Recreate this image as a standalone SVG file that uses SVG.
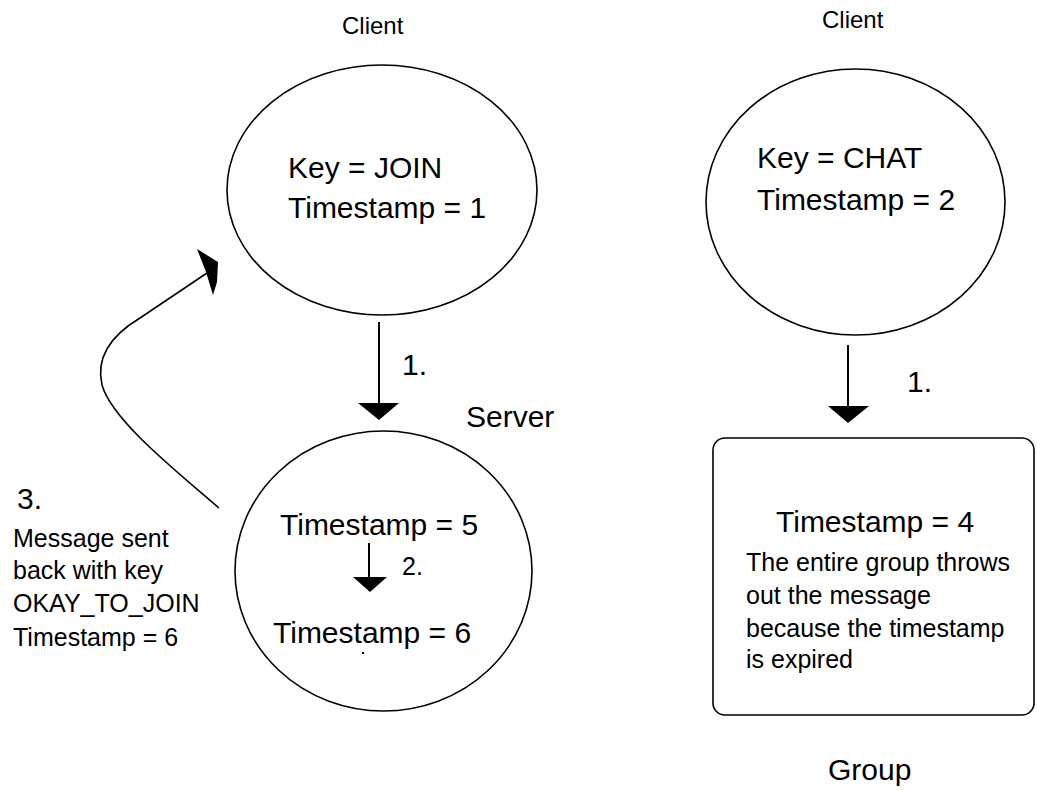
<svg xmlns="http://www.w3.org/2000/svg" width="1037" height="790" viewBox="0 0 1037 790">
<style>
text{font-family:"Liberation Sans",Arial,sans-serif;fill:#000}
.big{font-size:30px}
.mid{font-size:25px}
.sm{font-size:24px}
.shape{fill:none;stroke:#000;stroke-width:1.6}
.ln{fill:none;stroke:#000;stroke-width:2}
.head{fill:#000;stroke:none}
</style>
<rect width="1037" height="790" fill="#fff"/>
<g id="client1">
<text class="sm" x="342" y="34">Client</text>
<ellipse class="shape" cx="382" cy="190" rx="155" ry="125"/>
<text class="big" x="288" y="178">Key = JOIN</text>
<text class="big" x="288" y="218">Timestamp = 1</text>
</g>
<g id="client2">
<text class="sm" x="822" y="28">Client</text>
<ellipse class="shape" cx="855.5" cy="202" rx="149.5" ry="133"/>
<text class="big" x="757" y="168">Key = CHAT</text>
<text class="big" x="757" y="210">Timestamp = 2</text>
</g>
<g id="server">
<text class="big" x="466" y="427">Server</text>
<ellipse class="shape" cx="383.5" cy="571" rx="148.5" ry="140"/>
<text class="big" x="280" y="535">Timestamp = 5</text>
<line class="ln" x1="369" y1="543" x2="369" y2="580"/>
<polygon class="head" points="353,577 387,577 370,592"/>
<text class="mid" x="402" y="575">2.</text>
<text class="big" x="273" y="643">Timestamp = 6</text>
<rect x="362" y="652" width="2" height="2" fill="#000"/>
</g>
<g id="group">
<rect class="shape" x="713" y="438" width="321" height="277" rx="12" ry="12"/>
<text class="big" x="776" y="532">Timestamp = 4</text>
<text class="mid" x="746" y="571">The entire group throws</text>
<text class="mid" x="746" y="604">out the message</text>
<text class="mid" x="746" y="637">because the timestamp</text>
<text class="mid" x="746" y="668">is expired</text>
<text class="big" x="828" y="780">Group</text>
</g>
<g id="note3">
<text class="big" x="17" y="509">3.</text>
<text class="mid" x="13" y="547">Message sent</text>
<text class="mid" x="13" y="579">back with key</text>
<text class="mid" x="13" y="612">OKAY_TO_JOIN</text>
<text class="mid" x="13" y="646">Timestamp = 6</text>
</g>
<g id="connectors">
<line class="ln" x1="379" y1="322" x2="379" y2="406"/>
<polygon class="head" points="358,403 399,403 379,420"/>
<text class="big" x="402" y="375">1.</text>
<line class="ln" x1="848" y1="345" x2="848" y2="408"/>
<polygon class="head" points="828,406 869,406 848,423"/>
<text class="big" x="907" y="392">1.</text>
<path class="shape" d="M219,508 C175,470 112,420 102,385 C95,355 115,333 140,318 L207,273"/>
<polygon class="head" points="197,249 218,262 217,282 213,295 206,272"/>
</g>
</svg>
